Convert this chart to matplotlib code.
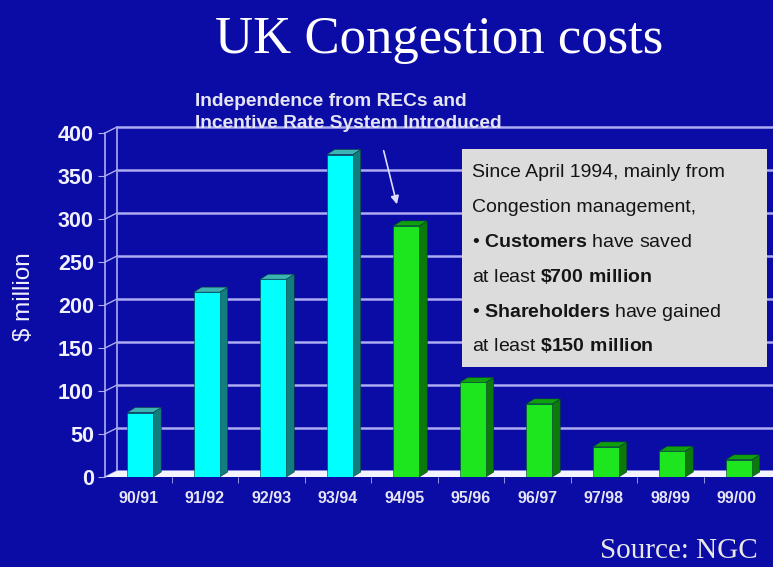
import matplotlib
matplotlib.use("Agg")
import matplotlib.pyplot as plt
from matplotlib.patches import Polygon, Rectangle

# Annual congestion costs, $ million
seasons = ["90/91", "91/92", "92/93", "93/94", "94/95",
           "95/96", "96/97", "97/98", "98/99", "99/00"]
costs = [75, 215, 230, 375, 292, 110, 85, 35, 30, 20]
reform_index = 4          # first season under the incentive scheme
y_ticks = [0, 50, 100, 150, 200, 250, 300, 350, 400]

box_lines = [
    "Since April 1994, mainly from",
    "Congestion management,",
    r"• $\mathbf{Customers}$ have saved",
    r"at least $\mathbf{\$700\ million}$",
    r"• $\mathbf{Shareholders}$ have gained",
    r"at least $\mathbf{\$150\ million}$",
]

plt.rcParams["font.family"] = ["Liberation Sans", "DejaVu Sans"]
plt.rcParams["mathtext.fontset"] = "custom"
plt.rcParams["mathtext.rm"] = "Liberation Sans"
plt.rcParams["mathtext.bf"] = "Liberation Sans:bold"

W, H = 773, 567
fig = plt.figure(figsize=(W / 100, H / 100), dpi=100)
bg = "#0b0ba6"
fig.patch.set_facecolor(bg)

ax = fig.add_axes([105 / W, 1 - 477 / H, 665 / W, 344 / H])
ax.set_facecolor("none")
ax.set_xlim(-0.5, 9.5)
ax.set_ylim(0, 400)

px_x = 665 / 10.0
px_y = 344 / 400.0
wall_dx, wall_dy = 12 / px_x, 6 / px_y
bar_dx, bar_dy = 8 / px_x, 5 / px_y
bar_w = 26 / px_x
grid_c = "#acacf2"

# axes styling
for s in ("top", "right", "bottom"):
    ax.spines[s].set_visible(False)
ax.spines["left"].set_color(grid_c)
ax.spines["left"].set_linewidth(1.2)
ax.set_yticks(y_ticks)
ax.set_yticklabels([str(v) for v in y_ticks], fontsize=15.5, fontweight="bold",
                   color="#f0f0ff")
ax.tick_params(axis="y", direction="out", length=5, color=grid_c, pad=3)
ax.set_xticks(range(len(seasons)))
ax.set_xticklabels(seasons, fontsize=11.5, fontweight="bold", color="#e4e4f4")
ax.tick_params(axis="x", which="major", length=0, pad=10)
ax.set_xticks([i + 0.5 for i in range(len(seasons) - 1)], minor=True)
ax.tick_params(axis="x", which="minor", direction="out", length=4, color=grid_c)

# back wall: gridlines, left edge and diagonal tick connectors
x_back = -0.5 + wall_dx
for v in y_ticks:
    ax.plot([x_back, 9.62], [v + wall_dy] * 2, color=grid_c, lw=1.8,
            zorder=1, clip_on=False, solid_capstyle="butt")
    ax.plot([-0.5, x_back], [v, v + wall_dy], color=grid_c, lw=1.0,
            zorder=1, clip_on=False)
ax.plot([x_back, x_back], [wall_dy, 400 + wall_dy], color=grid_c, lw=1.2,
        zorder=1, clip_on=False)

# floor
ax.add_patch(Polygon([(-0.5, 0), (9.62, 0), (9.62, wall_dy),
                      (x_back, wall_dy)], closed=True, facecolor="#f4f4ff",
                     edgecolor="none", zorder=2, clip_on=False))

# bars with a simple 3-D extrusion
for i, v in enumerate(costs):
    if i < reform_index:
        front, side, top = "#00ffff", "#137c7c", "#3cb4b4"
    else:
        front, side, top = "#1ee61e", "#0b7a0b", "#0ea00e"
    x0 = i - bar_w / 2 + 0.03
    x1 = x0 + bar_w
    ax.add_patch(Polygon([(x1, 0), (x1 + bar_dx, bar_dy),
                          (x1 + bar_dx, v + bar_dy), (x1, v)],
                         closed=True, facecolor=side, edgecolor="#0a3a3a",
                         lw=0.4, zorder=3))
    ax.add_patch(Polygon([(x0, v), (x1, v), (x1 + bar_dx, v + bar_dy),
                          (x0 + bar_dx, v + bar_dy)], closed=True,
                         facecolor=top, edgecolor="#0a3a3a", lw=0.4, zorder=3))
    ax.add_patch(Rectangle((x0, 0), bar_w, v, facecolor=front,
                           edgecolor="#0a3a3a", lw=0.4, zorder=4))

# annotation arrow to the first season after the reform
ax.annotate("", xy=(reform_index - 0.1, costs[reform_index] + 22),
            xytext=(383, H - 148), textcoords="figure pixels",
            arrowprops=dict(arrowstyle="-|>", color="#dcdcff", lw=1.2,
                            mutation_scale=12), zorder=6)
fig.text(195 / W, 1 - 102 / H, "Independence from RECs and", fontsize=13.8,
         fontweight="bold", color="#e4e4f4", va="center")
fig.text(195 / W, 1 - 124 / H, "Incentive Rate System Introduced",
         fontsize=13.8, fontweight="bold", color="#e4e4f4", va="center")

# summary box
fig.add_artist(Rectangle((462 / W, 1 - 367 / H), (767 - 462) / W,
                         (367 - 149) / H, transform=fig.transFigure,
                         facecolor="#dcdcdc", edgecolor="none", zorder=5))
baselines = [177, 212, 247, 282, 317, 351]
for txt, yy in zip(box_lines, baselines):
    fig.text(472 / W, 1 - yy / H, txt, fontsize=14, color="#151515",
             va="baseline", zorder=6)

# titles
fig.text(439 / W, 1 - 40 / H, "UK Congestion costs", family="Liberation Serif",
         fontsize=38, color="white", ha="center", va="center")
fig.text(24 / W, 1 - 297 / H, "$ million", fontsize=17.5, color="#f0f0ff",
         rotation=90, ha="center", va="center")
fig.text(679 / W, 1 - 551 / H, "Source: NGC", family="Liberation Serif",
         fontsize=21, color="#e8e8e8", ha="center", va="center")

fig.savefig("out.png", dpi=100, facecolor=bg)
